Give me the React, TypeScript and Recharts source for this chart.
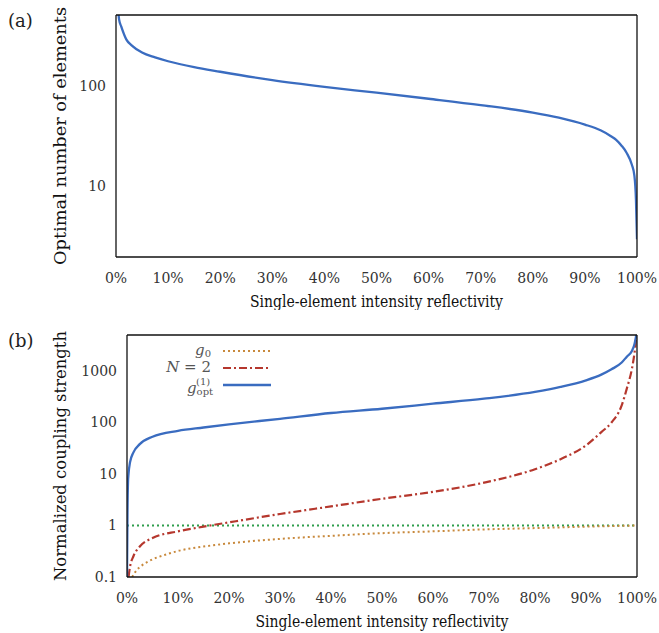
import React from 'react';
import { LineChart, Line, XAxis, YAxis } from 'recharts';

const FONT = "'DejaVu Serif', 'Liberation Serif', 'Times New Roman', serif";

// shared x ticks (reflectivity)
const reflectTicks = [0, 0.1, 0.2, 0.3, 0.4, 0.5, 0.6, 0.7, 0.8, 0.9, 1.0];

// panel (a)
const topMajor = [10, 100];
const topMinor = [3, 4, 5, 6, 7, 8, 9, 20, 30, 40, 50, 60, 70, 80, 90, 200, 300, 400];
const topR = [0.004, 0.006, 0.01, 0.02, 0.03, 0.05, 0.075, 0.1, 0.15, 0.2, 0.3, 0.4, 0.5, 0.6, 0.7, 0.8, 0.85, 0.9, 0.93, 0.95, 0.96, 0.97, 0.98, 0.99, 0.995, 0.998, 1.0];
const topN = [560, 450, 385, 285, 250, 212, 190, 174, 152, 137, 113, 97, 85, 74, 64, 54, 48, 41, 36, 31.5, 29, 25.5, 21.6, 16.5, 12.8, 7.4, 3];

// panel (b)
const botMajor = [0.1, 1, 10, 100, 1000];
const botMinor = [0.2, 0.5, 2, 5, 20, 50, 200, 500, 2000];
const optR = [0, 0.001, 0.002, 0.003, 0.006, 0.0124, 0.025, 0.05, 0.1, 0.15, 0.2, 0.3, 0.4, 0.5, 0.6, 0.7, 0.8, 0.85, 0.9, 0.93, 0.95, 0.97, 0.98, 0.99, 0.995, 1.0];
const optG = [0.1, 2, 7, 10, 17, 26, 38, 53, 69, 80, 92, 118, 153, 185, 232, 290, 392, 490, 659, 850, 1080, 1460, 1900, 2450, 3300, 6000];
const n2R = [0.003, 0.006, 0.0124, 0.025, 0.05, 0.1, 0.15, 0.2, 0.3, 0.4, 0.5, 0.6, 0.7, 0.8, 0.85, 0.9, 0.93, 0.95, 0.97, 0.98, 0.99, 0.995, 0.998];
const n2G = [0.1, 0.16, 0.25, 0.39, 0.57, 0.77, 0.95, 1.15, 1.67, 2.35, 3.3, 4.5, 6.8, 12.4, 19.4, 36, 65, 100, 215, 455, 1100, 2200, 4000];
const g0R = [0.01, 0.02, 0.03, 0.05, 0.075, 0.1, 0.15, 0.2, 0.3, 0.4, 0.5, 0.6, 0.7, 0.8, 0.9, 1.0];
const g0G = [0.1, 0.14, 0.17, 0.22, 0.27, 0.32, 0.39, 0.45, 0.55, 0.63, 0.71, 0.77, 0.84, 0.89, 0.95, 1.0];
const unityR = [0, 1];
const unityG = [1, 1];

const zip = (xs: number[], ys: number[]) => xs.map((x, i) => ({ x, y: ys[i] }));
const topData = zip(topR, topN);
const optData = zip(optR, optG);
const n2Data = zip(n2R, n2G);
const g0Data = zip(g0R, g0G);
const unityData = zip(unityR, unityG);

const BLUE = '#3a6cc0';
const RED = '#b5372d';
const ORANGE = '#c8893c';
const GREEN = '#2f9e4c';
const AXIS = '#111';

const pct = (v: number) => `${Math.round(v * 100)}%`;
const tickStyle = { style: { fontFamily: FONT }, fontSize: 14, fill: '#333' };

const yTitle = (text: string, cx: number, fs: number, len: number) => (props: any) => {
  const vb = props.viewBox || {};
  const cy = (vb.y ?? 0) + (vb.height ?? 0) / 2;
  return (
    <text x={cx} y={cy} transform={`rotate(-90 ${cx} ${cy})`} textAnchor="middle" dominantBaseline="central"
      style={{ fontFamily: FONT }} fontSize={fs} fill="#111" textLength={len} lengthAdjust="spacingAndGlyphs">{text}</text>
  );
};
const xTitle = (text: string, fs: number, len: number) => (props: any) => {
  const vb = props.viewBox || {};
  const cx = (vb.x ?? 0) + (vb.width ?? 0) / 2;
  const y = (vb.y ?? 0) + 50;
  return (
    <text x={cx} y={y} textAnchor="middle" style={{ fontFamily: FONT }} fontSize={fs} fill="#111"
      textLength={len} lengthAdjust="spacingAndGlyphs">{text}</text>
  );
};

function frameAxes(domain: [number, number], major: number[], minor: number[]) {
  return [
    <XAxis key="xt" xAxisId="xt" orientation="top" type="number" dataKey="x" domain={[0, 1]} allowDataOverflow
      ticks={reflectTicks} tick={false} mirror height={0.001} tickSize={6} interval={0} stroke={AXIS} strokeWidth={1.3} />,
    <XAxis key="xb" xAxisId="xb" orientation="bottom" type="number" dataKey="x" domain={[0, 1]} allowDataOverflow
      ticks={reflectTicks} tick={false} mirror height={0.001} tickSize={6} interval={0} axisLine={false} stroke={AXIS} />,
    <YAxis key="ylM" yAxisId="ylM" orientation="left" scale="log" type="number" domain={domain} allowDataOverflow
      ticks={major} tick={false} mirror width={0.001} tickSize={6} interval={0} axisLine={false} stroke={AXIS} />,
    <YAxis key="ylm" yAxisId="ylm" orientation="left" scale="log" type="number" domain={domain} allowDataOverflow
      ticks={minor} tick={false} mirror width={0.001} tickSize={3} interval={0} axisLine={false} stroke={AXIS} />,
    <YAxis key="yrM" yAxisId="yrM" orientation="right" scale="log" type="number" domain={domain} allowDataOverflow
      ticks={major} tick={false} mirror width={0.001} tickSize={6} interval={0} stroke={AXIS} strokeWidth={1.3} />,
    <YAxis key="yrm" yAxisId="yrm" orientation="right" scale="log" type="number" domain={domain} allowDataOverflow
      ticks={minor} tick={false} mirror width={0.001} tickSize={3} interval={0} axisLine={false} stroke={AXIS} />,
  ];
}

function TopChart() {
  return (
    <LineChart width={659} height={310} margin={{ top: 15, right: 22, bottom: 0, left: 0 }}>
      <XAxis xAxisId="x" type="number" dataKey="x" domain={[0, 1]} allowDataOverflow ticks={reflectTicks}
        tickFormatter={pct} tick={tickStyle} tickLine={false} tickSize={0} tickMargin={16} height={53} interval={0}
        stroke={AXIS} strokeWidth={1.3} label={{ content: xTitle('Single-element intensity reflectivity', 17, 253) }} />
      <YAxis yAxisId="y" scale="log" type="number" domain={[2, 500]} allowDataOverflow ticks={topMajor}
        tick={tickStyle} tickLine={false} tickSize={0} tickMargin={10} width={116} interval={0}
        stroke={AXIS} strokeWidth={1.3} label={{ content: yTitle('Optimal number of elements', 60, 17.5, 258) }} />
      {frameAxes([2, 500], topMajor, topMinor)}
      <Line xAxisId="x" yAxisId="y" data={topData} dataKey="y" type="monotone" stroke={BLUE} strokeWidth={2.3}
        dot={false} isAnimationActive={false} />
    </LineChart>
  );
}

function BottomChart() {
  return (
    <LineChart width={659} height={323} margin={{ top: 25, right: 22, bottom: 0, left: 0 }}>
      <XAxis xAxisId="x" type="number" dataKey="x" domain={[0, 1]} allowDataOverflow ticks={reflectTicks}
        tickFormatter={pct} tick={tickStyle} tickLine={false} tickSize={0} tickMargin={16} height={56} interval={0}
        stroke={AXIS} strokeWidth={1.3} label={{ content: xTitle('Single-element intensity reflectivity', 17, 253) }} />
      <YAxis yAxisId="y" scale="log" type="number" domain={[0.1, 5000]} allowDataOverflow ticks={botMajor}
        tickFormatter={(v: number) => String(v)} tick={tickStyle} tickLine={false} tickSize={0} tickMargin={10}
        width={127} interval={0} stroke={AXIS} strokeWidth={1.3}
        label={{ content: yTitle('Normalized coupling strength', 60, 17, 250) }} />
      {frameAxes([0.1, 5000], botMajor, botMinor)}
      <Line xAxisId="x" yAxisId="y" data={unityData} dataKey="y" type="linear" stroke={GREEN} strokeWidth={2}
        strokeDasharray="2 3" dot={false} isAnimationActive={false} />
      <Line xAxisId="x" yAxisId="y" data={g0Data} dataKey="y" type="monotone" stroke={ORANGE} strokeWidth={2}
        strokeDasharray="2 3" dot={false} isAnimationActive={false} />
      <Line xAxisId="x" yAxisId="y" data={n2Data} dataKey="y" type="monotone" stroke={RED} strokeWidth={2.2}
        strokeDasharray="8 3 2 3" dot={false} isAnimationActive={false} />
      <Line xAxisId="x" yAxisId="y" data={optData} dataKey="y" type="monotone" stroke={BLUE} strokeWidth={2.3}
        dot={false} isAnimationActive={false} />
    </LineChart>
  );
}

function Overlay() {
  const lf = { style: { fontFamily: FONT }, fontSize: 15, fill: '#555' };
  return (
    <svg width={659} height={633} style={{ position: 'absolute', left: 0, top: 0, pointerEvents: 'none' }}>
      <text x={8} y={27} style={{ fontFamily: FONT }} fontSize={18} fill="#222">(a)</text>
      <text x={8} y={347} style={{ fontFamily: FONT }} fontSize={18} fill="#222">(b)</text>
      {/* legend */}
      <text x={211} y={355} textAnchor="end" {...lf}>
        <tspan fontStyle="italic">g</tspan><tspan fontSize={10} dy={2}>0</tspan>
      </text>
      <line x1={223} x2={271} y1={351} y2={351} stroke={ORANGE} strokeWidth={2} strokeDasharray="2 3" />
      <text x={211} y={372} textAnchor="end" {...lf}>
        <tspan fontStyle="italic">N</tspan> = 2
      </text>
      <line x1={223} x2={271} y1={368} y2={368} stroke={RED} strokeWidth={2.2} strokeDasharray="8 3 2 3" />
      <text x={187} y={393} {...lf}>
        <tspan fontStyle="italic">g</tspan><tspan fontSize={10} dy={2}>opt</tspan>
      </text>
      <text x={196} y={385} {...lf} fontSize={10}>(1)</text>
      <line x1={223} x2={271} y1={385} y2={385} stroke={BLUE} strokeWidth={2.3} />
    </svg>
  );
}

export default function App() {
  return (
    <div style={{ position: 'absolute', left: 0, top: 0, width: 659, height: 633, background: '#fff' }}>
      <div style={{ position: 'absolute', left: 0, top: 0 }}>
        <TopChart />
      </div>
      <div style={{ position: 'absolute', left: 0, top: 310 }}>
        <BottomChart />
      </div>
      <Overlay />
    </div>
  );
}
